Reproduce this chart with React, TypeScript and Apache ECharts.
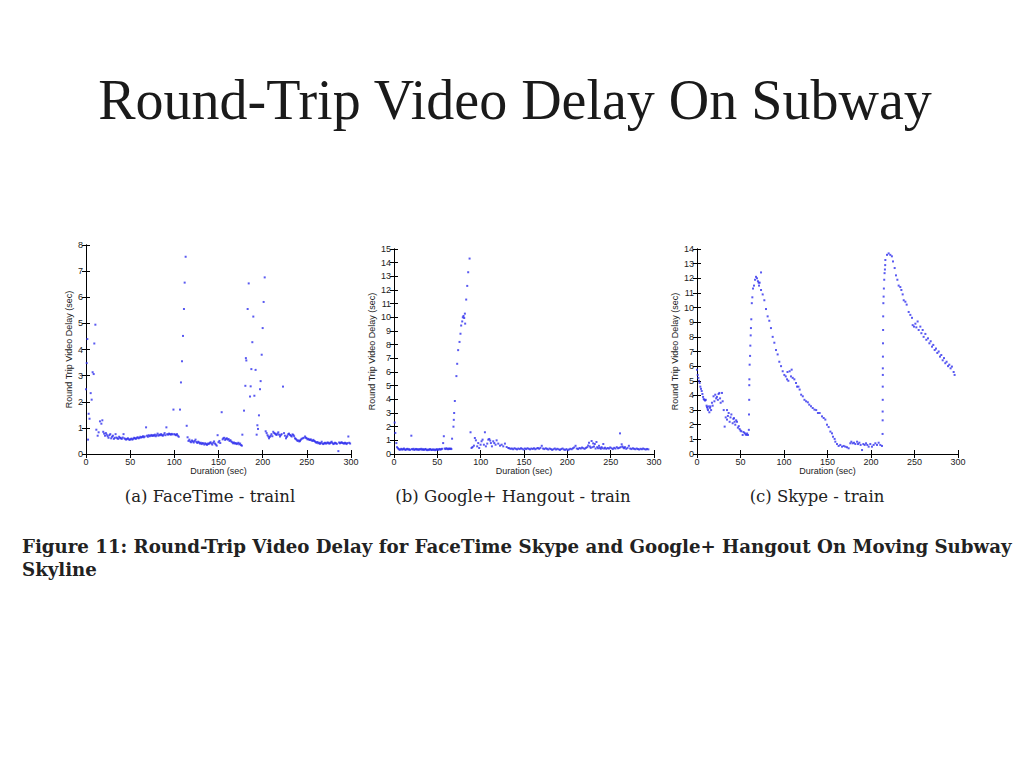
import React, { useEffect, useRef } from "react";
import * as echarts from "echarts";

const durationTicks = [0, 50, 100, 150, 200, 250, 300];
const yMaxes = [8, 15, 14];
const panelCaptions = ["(a) FaceTime - trainl", "(b) Google+ Hangout - train", "(c) Skype - train"];
const pageTitle = "Round-Trip Video Delay On Subway";
const figureCaption1 = "Figure 11: Round-Trip Video Delay for FaceTime Skype and Google+ Hangout On Moving Subway";
const figureCaption2 = "Skyline";
const xAxisName = "Duration (sec)";
const yAxisName = "Round Trip Video Delay (sec)";

const faceTimePoints: number[][] = [
  [0,2.48],[0.8,3.48],[1.5,4.4],[2.3,0.55],[3,1.54],[4,1.35],[5.3,2.33],[6.4,2.08],[7.5,3.13],[8.7,3.06],[9.4,4.23],[10.6,4.95],[11.7,0.93],[13.2,0.7],[14.3,0.83],[15.8,1.25],[17.4,1.16],[18.5,1.29],
  [19.5,0.85],[20.5,0.78],[21.5,0.7],[22.5,0.8],[23.5,0.74],[24.5,0.68],[25.5,0.62],[26.5,0.72],[27.5,0.76],[28.5,0.6],[29.5,0.66],[30.5,0.7],[31.5,0.58],[32.5,0.62],[33.5,0.76],[34.5,0.63],[35.5,0.6],[36.5,0.58],[37.5,0.66],[38.5,0.62],[39.5,0.6],[40.5,0.58],[41.5,0.63],[42.5,0.76],[43.5,0.6],[44.5,0.57],[45.5,0.55],[46.5,0.58],[47.5,0.6],[48.5,0.56],[49.5,0.54],[50.5,0.57],[51.5,0.59],[52.5,0.55],[53.5,0.58],[54.5,0.62],[55.5,0.6],[56.5,0.58],[57.5,0.62],[58.5,0.64],[59.5,0.6],[60.5,0.62],[61.5,0.66],[62.5,0.63],[63.5,0.65],[64.5,0.68],[65.5,0.64],[66.5,0.67],[68,1.02],[69,0.7],[70,0.66],[71,0.72],[72,0.68],[73,0.7],[74,0.73],[75,0.69],[76,0.72],[77,0.7],[78,0.74],[79,0.68],[80,0.72],[81,0.78],[82,0.7],[83,0.74],[84,0.72],[85,0.76],[86,0.72],[87,0.7],[88,0.74],[89,0.8],[90,0.72],[91,1.02],[92,0.76],[93,0.74],[94,0.78],[95,0.76],[96,0.74],[97,0.77],[98,0.75],[99,1.7],[100,0.76],[101,0.74],[102,0.72],[103,0.76],[104,0.7],[105,0.66],
  [106.4,1.7],[107.5,2.74],[108.7,3.55],[109.8,4.52],[110.9,5.55],[111.7,6.56],[112.8,7.55],[114,1.08],[115,0.64],
  [116,0.5],[117,0.55],[118,0.48],[119,0.45],[120,0.52],[121,0.48],[122,0.44],[123,0.5],[124,0.55],[125,0.46],[126,0.42],[127,0.47],[128,0.44],[129,0.4],[130,0.43],[131,0.38],[132,0.42],[133,0.4],[134,0.36],[135,0.41],[136,0.38],[137,0.35],[138,0.4],[139,0.38],[140,0.42],[141,0.45],[142,0.4],[143,0.36],[144,0.43],[145,0.48],[146,0.4],[147,0.36],[148,0.32],[149,0.72],[150,0.45],[151,0.5],[152,0.42],[153.6,1.6],[154.7,0.56],[155.5,0.6],[156.5,0.62],[157.5,0.54],[158.5,0.58],[159.5,0.6],[160.5,0.55],[161.5,0.57],[162.5,0.5],[163.5,0.53],[164.5,0.48],[165.5,0.45],[166.5,0.41],[167.5,0.44],[168.5,0.4],[169.5,0.42],[170.5,0.38],[171.5,0.4],[172.5,0.43],[173.5,0.37],[174.5,0.4],[175.5,0.34],[176.5,0.32],
  [177,0.74],[178.9,1.66],[180.4,2.61],[181,3.67],[181.5,3.58],[183,5.55],[184.2,6.53],[185.7,2.2],[186.4,2.59],[187.2,3.25],[188.3,4.28],[189.4,5.26],[190.6,2.23],[192,3.22],[193.2,0.74],[194,1.1],[194.7,0.96],[195.8,1.48],[197,2.48],[197.7,2.79],[198.9,3.8],[200,4.82],[201.1,5.82],[202.3,6.76],[203.4,0.87],
  [204.5,0.8],[205.5,0.72],[206.4,0.67],[207.2,0.6],[208,0.65],[209,0.7],[210,0.76],[211,0.68],[212,0.85],[213,0.8],[214,0.78],[215,0.75],[215.8,0.73],[216.8,0.78],[217.7,0.83],[218.6,0.74],[219.6,0.67],[220.5,0.72],[221.5,0.76],[223,2.58],[224.2,0.8],[225.2,0.7],[226.4,0.6],[227.2,0.65],[228,0.7],[229,0.76],[229.8,0.78],[231,0.73],[232,0.7],[232.9,0.67],[233.8,0.75],[234.7,0.73],[235.6,0.68],[236.6,0.6],[237.5,0.58],[238.5,0.54],[239.5,0.5],[240.5,0.52],[241.5,0.48],[242.3,0.5],[243,0.54],[244,0.58],[245.3,0.6],[246.5,0.62],[248,0.67],[249,0.62],[249.8,0.6],[250.8,0.56],[251.7,0.58],[252.6,0.55],[253.6,0.54],[254.5,0.56],[255.5,0.52],[256.5,0.5],[257.4,0.54],[258.3,0.5],[259.2,0.48],[260.2,0.45],[261.1,0.43],[262,0.46],[263,0.41],[264,0.43],[264.9,0.39],[265.8,0.42],[266.8,0.47],[267.7,0.4],[268.7,0.38],[269.6,0.41],[270.6,0.43],[271.5,0.4],[272.5,0.41],[273.4,0.44],[274.3,0.43],[275.2,0.4],[276.2,0.41],[277.1,0.44],[278.1,0.47],[279,0.42],[280,0.38],[281,0.4],[281.9,0.43],[283,0.41],[284,0.39],[285.7,0.11],[286.5,0.44],[287.5,0.41],[288.5,0.43],[289.4,0.45],[290.3,0.42],[291.3,0.41],[292.2,0.4],[293.2,0.43],[294.1,0.41],[295,0.38],[296,0.42],[297,0.67],[298,0.43],[299,0.4]
];

const hangoutPoints: number[][] = [
  [0.8,2.3],[1.5,1.54],[2.7,0.8],[3.5,0.5],
  [4.5,0.42],[5.5,0.36],[6.5,0.3],[7.5,0.34],[8.5,0.38],[9.5,0.32],[10.5,0.35],[11.5,0.4],[12.5,0.33],[13.5,0.3],[14.5,0.36],[15.5,0.38],[16.5,0.32],[17.5,0.35],[18.5,0.3],[20,1.34],[20.5,0.36],[21.5,0.33],[22.5,0.38],[23.5,0.3],[24.5,0.34],[25.5,0.37],[26.5,0.32],[27.5,0.35],[28.5,0.3],[29.5,0.36],[30.5,0.33],[31.5,0.38],[32.5,0.31],[33.5,0.35],[34.5,0.3],[35.5,0.34],[36.5,0.37],[37.5,0.3],[38.5,0.28],[39.5,0.33],[40.5,0.3],[41.5,0.36],[42.5,0.32],[43.5,0.29],[44.5,0.34],[45.5,0.3],[46.5,0.33],[47.5,0.28],[48.5,0.32],[49.5,0.35],[50.5,0.3],[51.5,0.33],[52.5,0.37],[53.5,0.32],[54.5,0.35],[55.5,0.38],[56.7,0.8],[57.5,1.3],[58.5,0.4],[59.5,0.36],[60.5,0.42],[61.5,0.38],[62.5,0.35],[63.5,0.4],[64.5,0.37],[65.5,0.4],[66.2,0.36],
  [67,1.12],[68.6,2.0],[69,2.5],[69.4,3.0],[70.2,3.88],[72,5.7],[72.9,6.6],[74,7.6],[75.6,8.2],[76.7,8.8],[77.5,9.4],[78.7,9.7],[79.4,10.0],[80.2,10.1],[81,9.95],[81.8,10.27],[82.1,9.54],[83.3,11.3],[84.5,12.3],[85.6,13.3],[87.2,14.3],[88.3,1.59],
  [89.5,0.44],[90.6,0.51],[92.2,0.61],[93.3,1.17],[94.5,1.0],[96,0.56],[97.2,0.8],[98.3,0.44],[99.9,0.68],[101,0.93],[102.2,1.05],[103.7,0.68],[104.9,1.59],[106,0.56],[107.6,0.76],[108.8,1.05],[109.9,1.1],[111,0.98],[111.8,0.8],[113,0.56],[114.5,0.93],[115.7,0.8],[117.2,0.68],[118.4,1.0],[120.3,0.76],[122.3,0.61],[124.2,0.68],[126.1,0.56],[128,0.76],[130,0.51],[131.9,0.44],
  [133,0.42],[134.5,0.38],[136,0.4],[137.5,0.35],[139,0.42],[140.5,0.38],[142,0.34],[143.5,0.4],[145,0.36],[146.5,0.42],[148,0.38],[149.5,0.33],[151,0.4],[152.5,0.36],[154,0.42],[155.5,0.38],[157,0.34],[158.5,0.4],[160,0.37],[161.5,0.42],[163,0.35],[164.5,0.4],[166,0.44],[167.5,0.38],[169,0.45],[170.5,0.6],[172,0.4],[173.5,0.36],[175,0.42],[176.5,0.38],[178,0.33],[179.5,0.4],[181,0.36],[182.5,0.3],[184,0.35],[185.5,0.4],[187,0.33],[188.5,0.38],[190,0.34],[191.5,0.3],[193,0.36],[194.5,0.4],[196,0.33],[197.5,0.3],[199,0.36],[200.5,0.28],[202,0.33],[203.5,0.38],[205,0.35],[206.5,0.42],[208,0.48],[209.5,0.6],[211,0.4],[212.5,0.36],[214,0.44],[215.5,0.4],[217,0.47],[218.5,0.42],[220,0.38],[221.5,0.45],[223,0.5],[224,0.62],[225,0.83],[226,0.55],[227,0.45],[228,0.95],[229,0.5],[229.8,0.78],[230.8,0.55],[231.7,0.73],[232.6,0.4],[233.6,0.88],[234.5,0.5],[235.5,0.42],[236.5,0.6],[237.5,0.45],[238.5,0.38],[239.5,0.5],[240.5,0.42],[241.5,0.73],[242.5,0.4],[243.5,0.46],[245,0.38],[246.5,0.44],[248,0.4],[249.5,0.48],[251,0.42],[252.5,0.36],[254,0.45],[255.5,0.4],[257,0.5],[258.5,0.42],[260,0.45],[260.8,1.51],[261.5,0.5],[262.7,0.71],[263.5,0.55],[264.5,0.48],[265.5,0.42],[266.5,0.5],[268,0.38],[269.5,0.45],[271,0.6],[272.5,0.4],[274,0.36],[275.5,0.42],[277,0.38],[278.5,0.35],[280,0.4],[281.5,0.36],[283,0.33],[284.5,0.38],[286,0.35],[287.5,0.4],[289,0.36],[290.5,0.33],[292,0.37],[293.5,0.34]
];

const skypePoints: number[][] = [
  [0,5.76],[0.8,5.4],[1.5,5.2],[2.3,5.0],[3,4.85],[3.8,4.6],[4.6,4.45],[5.4,4.3],[6.2,4.1],[7,3.9],[7.7,3.75],[8.5,3.7],[9.3,3.65],[10.1,3.7],[11,3.3],[11.5,3.2],[12.2,3.1],[12.6,3.0],[13.3,3.25],[14.2,2.85],[15,3.15],[15.3,3.25],[16.2,3.0],[17.2,3.5],[18,3.3],[19,3.94],[20,3.6],[21,4.05],[22,3.8],[22.9,3.9],[24,3.7],[24.8,4.1],[25.7,4.17],[26.5,3.8],[27.2,3.5],[28.7,4.17],[29.5,3.6],
  [30.7,3.0],[31.8,1.87],[33,2.5],[34.5,3.0],[34.5,2.35],[35.5,2.6],[36.4,2.8],[37.5,2.2],[38.5,2.5],[39.5,2.7],[41,2.1],[41.8,2.4],[42.5,2.45],[43.2,2.2],[44,2.0],[45,2.3],[46,2.2],[47,1.8],[48,1.9],[49,1.7],[50,1.6],[51,1.55],[52.5,1.3],[53.5,1.5],[54.8,1.43],[55.8,1.35],[56.7,1.3],[57.6,1.4],[58.6,1.3],
  [59.6,1.65],[59.8,2.7],[60,3.7],[60.1,4.7],[60.2,5.1],[60.5,6.1],[61,6.7],[61.3,7.4],[61.7,8.1],[62,8.6],[62.4,9.2],[63,10.3],[63.6,10.7],[64.4,11.3],[65.5,11.5],[66.7,11.9],[67.8,12.1],[69,12.0],[70,11.8],[70.9,11.7],[71.3,11.5],[72,11.7],[73.6,12.4],[73.6,11.2],[75.5,10.9],[77.4,10.5],[79.3,9.9],[81.2,9.4],[83.1,9.1],[85,8.6],[87,8.0],[88.9,7.6],[90.8,7.1],[92.7,6.8],[94.6,6.3],[96.6,6.0],[98.5,5.65],[100.4,5.4],[102,5.3],[103.5,5.1],[104,5.6],[105,5.0],[106.5,5.65],[108,5.3],[108.8,5.76],[110,5.2],[111.9,5.1],[113.8,4.85],[115,4.6],[116.6,4.6],[118,4.4],[119.7,4.05],[121.6,3.94],[123.5,3.7],[125.4,3.6],[127.4,3.53],[129,3.37],[131,3.26],[133,3.14],[135,3.03],[137,3.0],[139,2.8],[141,2.8],[143.7,2.57],[145.6,2.46],[147.5,2.35],[149.4,2.0],[151.3,1.84],[153.3,1.53],[155.2,1.41],[156.3,1.18],[158.2,1.03],[159,0.84],[160.9,0.68],[162.8,0.55],[164.7,0.62],[166.7,0.5],[168.6,0.55],[170.5,0.5],[172.4,0.46],[174.3,0.39],[176.2,0.73],[177.4,0.84],[178.9,0.73],[180.5,0.77],[182,0.68],[184,0.84],[185.1,0.68],[186.6,0.77],[188.1,0.62],[189.7,0.27],[191.2,0.68],[192.7,0.62],[194.3,0.73],[195.8,0.62],[197.3,0.5],[199.2,0.68],[201.1,0.5],[203,0.62],[205,0.73],[206.9,0.62],[208.8,0.77],[210.7,0.62],[212.6,0.55],
  [213.3,1.37],[213.4,2.3],[213.4,2.9],[213.5,3.7],[213.5,4.6],[213.6,5.4],[213.6,5.85],[213.7,6.65],[213.8,7.56],[213.9,8.47],[214,9.4],[214.2,10.3],[214.5,10.75],[214.8,11.3],[215.2,11.9],[215.6,12.35],[216,12.6],[216.3,12.9],[216.5,13.25],[218.4,13.6],[220.3,13.7],[222.2,13.6],[224,13.5],[225.3,13.15],[227.2,12.7],[228.7,12.2],[230.3,11.9],[231.8,11.5],[233.7,11.4],[234.9,11.2],[236.4,10.9],[237.6,10.5],[239.5,10.4],[241,10.2],[243.3,9.7],[245.2,9.5],[247.1,9.3],[247.9,8.8],[249.4,8.7],[251,8.9],[252.1,8.65],[253.6,9.05],[254.8,8.47],[256.7,8.7],[257.9,8.25],[259.4,8.47],[260.5,8.0],[262.5,8.2],[263.6,7.8],[265.5,7.9],[267.1,7.56],[268.6,7.7],[270.1,7.33],[271.6,7.45],[273.2,7.1],[274.7,7.2],[276.2,6.9],[277.8,7.0],[279.3,6.65],[280.8,6.76],[282.4,6.4],[283.9,6.55],[285.4,6.2],[286.9,6.3],[288.5,6.0],[290,6.1],[291.5,5.85],[293,5.97],[295,5.6],[296.1,5.4]
];

const panelData = [faceTimePoints, hangoutPoints, skypePoints];

const grids = [
  { left: 86, top: 245, width: 265, height: 209 },
  { left: 394, top: 249, width: 260, height: 205 },
  { left: 697, top: 249, width: 261, height: 205 },
];
const yNameGaps = [13, 18, 18];
const captionCenters = [210, 513, 817];

export default function App() {
  const ref = useRef<HTMLDivElement>(null);
  useEffect(() => {
    if (!ref.current) return;
    const chart = echarts.init(ref.current, null, { renderer: "svg" });
    const axisLineStyle = { color: "#000", width: 1 };
    const labelStyle = { fontSize: 9, color: "#222", fontFamily: "Liberation Sans", margin: 3 };
    const xAxes: any[] = [];
    const yAxes: any[] = [];
    const series: any[] = [];
    grids.forEach((g, i) => {
      xAxes.push({
        type: "value", gridIndex: i, position: "bottom", min: 0, max: 300, interval: 50,
        axisLine: { show: true, lineStyle: axisLineStyle },
        axisTick: { show: true, inside: true, length: 4, lineStyle: axisLineStyle },
        axisLabel: { ...labelStyle, customValues: durationTicks },
        splitLine: { show: false },
        name: xAxisName, nameLocation: "middle", nameGap: 12,
        nameTextStyle: { fontSize: 9, color: "#222", fontFamily: "Liberation Sans" },
      });
      xAxes.push({
        type: "value", gridIndex: i, position: "top", min: 0, max: 300, interval: 50,
        axisLine: { show: true, lineStyle: axisLineStyle },
        axisTick: { show: true, inside: true, length: 4, lineStyle: axisLineStyle },
        axisLabel: { show: false }, splitLine: { show: false },
      });
      yAxes.push({
        type: "value", gridIndex: i, position: "left", min: 0, max: yMaxes[i], interval: 1,
        axisLine: { show: true, lineStyle: axisLineStyle },
        axisTick: { show: true, inside: true, length: 4, lineStyle: axisLineStyle },
        axisLabel: labelStyle,
        splitLine: { show: false },
        name: yAxisName, nameLocation: "middle", nameGap: yNameGaps[i], nameRotate: 90,
        nameTextStyle: { fontSize: 9, color: "#222", fontFamily: "Liberation Sans" },
      });
      yAxes.push({
        type: "value", gridIndex: i, position: "right", min: 0, max: yMaxes[i], interval: 1,
        axisLine: { show: true, lineStyle: axisLineStyle },
        axisTick: { show: true, inside: true, length: 4, lineStyle: axisLineStyle },
        axisLabel: { show: false }, splitLine: { show: false },
      });
      series.push({
        type: "scatter", xAxisIndex: i * 2, yAxisIndex: i * 2, data: panelData[i],
        symbol: "rect", symbolSize: 2, itemStyle: { color: "#3030ee" }, silent: true,
      });
    });
    const graphics: any[] = [
      {
        type: "text", x: 515, y: 100,
        style: { text: pageTitle, font: "56px 'Liberation Serif'", fill: "#1a1a1a", textAlign: "center", textVerticalAlign: "middle", align: "center", verticalAlign: "middle" },
      },
      ...panelCaptions.map((t, i) => ({
        type: "text", x: captionCenters[i], y: 496,
        style: { text: t, font: "16.5px 'DejaVu Serif'", fill: "#222", textAlign: "center", textVerticalAlign: "middle", align: "center", verticalAlign: "middle" },
      })),
      {
        type: "text", x: 22, y: 546,
        style: { text: figureCaption1, font: "bold 18.2px 'DejaVu Serif'", fill: "#222", textAlign: "left", textVerticalAlign: "middle", align: "left", verticalAlign: "middle" },
      },
      {
        type: "text", x: 22, y: 569,
        style: { text: figureCaption2, font: "bold 18.2px 'DejaVu Serif'", fill: "#222", textAlign: "left", textVerticalAlign: "middle", align: "left", verticalAlign: "middle" },
      },
    ];
    chart.setOption({
      animation: false,
      backgroundColor: "#fff",
      grid: grids.map((g) => ({ ...g, containLabel: false })),
      xAxis: xAxes,
      yAxis: yAxes,
      series,
      graphic: graphics,
    });
    return () => chart.dispose();
  }, []);
  return <div ref={ref} style={{ position: "fixed", left: 0, top: 0, width: 1024, height: 768 }} />;
}
